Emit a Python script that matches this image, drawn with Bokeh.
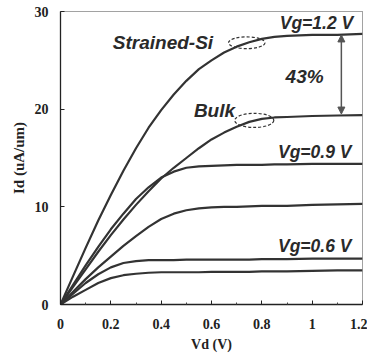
from bokeh.plotting import figure
from bokeh.models import FixedTicker, Range1d, Arrow, NormalHead
from bokeh.core.properties import value
from bokeh.embed import file_html
from bokeh.resources import INLINE

vd = [0, 0.05, 0.1, 0.15, 0.2, 0.25, 0.3, 0.35, 0.4, 0.45, 0.5, 0.55, 0.6,
      0.65, 0.7, 0.75, 0.8, 0.85, 0.9, 1.0, 1.1, 1.2]
strained_12 = [0, 2.9, 5.8, 8.6, 11.2, 13.7, 16.0, 18.1, 19.9, 21.5, 22.9, 24.1, 25.0,
               25.8, 26.4, 26.85, 27.2, 27.4, 27.5, 27.6, 27.6, 27.7]
bulk_12 = [0, 1.8, 3.6, 5.4, 7.1, 8.7, 10.2, 11.6, 12.9, 14.0, 15.0, 16.0, 16.9,
           17.6, 18.2, 18.7, 19.0, 19.15, 19.2, 19.3, 19.35, 19.4]
strained_09 = [0, 2.0, 4.0, 5.9, 7.7, 9.3, 10.8, 12.0, 13.0, 13.6, 14.0, 14.15, 14.2,
               14.25, 14.3, 14.3, 14.3, 14.35, 14.35, 14.4, 14.4, 14.4]
bulk_09 = [0, 1.3, 2.6, 3.8, 4.9, 6.0, 7.0, 7.95, 8.75, 9.3, 9.65, 9.85, 9.95,
           10.0, 10.0, 10.05, 10.1, 10.1, 10.1, 10.2, 10.25, 10.3]
strained_06 = [0, 1.1, 2.2, 3.1, 3.8, 4.25, 4.45, 4.55, 4.55, 4.55, 4.6, 4.6, 4.6,
               4.6, 4.6, 4.6, 4.65, 4.65, 4.65, 4.7, 4.7, 4.7]
bulk_06 = [0, 0.8, 1.5, 2.2, 2.7, 3.0, 3.15, 3.25, 3.3, 3.3, 3.3, 3.3, 3.35,
           3.35, 3.35, 3.35, 3.4, 3.4, 3.4, 3.45, 3.5, 3.5]
series = [strained_12, bulk_12, strained_09, bulk_09, strained_06, bulk_06]

x_ticks = [0, 0.2, 0.4, 0.6, 0.8, 1.0, 1.2]
x_tick_labels = ["0", "0.2", "0.4", "0.6", "0.8", "1", "1.2"]
y_ticks = [0, 10, 20, 30]
y_tick_labels = ["0", "10", "20", "30"]

vg_labels = ["Vg=1.2 V", "Vg=0.9 V", "Vg=0.6 V"]
vg_label_x = [1.017, 1.01, 1.01]
vg_label_y = [28.8, 15.6, 6.0]

p = figure(frame_width=302, frame_height=293, output_backend="svg",
           toolbar_location=None, x_range=Range1d(0, 1.2), y_range=Range1d(0, 30))
p.min_border_left = 60
p.min_border_right = 5
p.min_border_top = 11
p.min_border_bottom = 50
p.xgrid.visible = False
p.ygrid.visible = False
p.background_fill_color = "white"
p.border_fill_color = "white"
p.outline_line_color = "#444444"
p.outline_line_dash = "1 1"
p.outline_line_width = 1

p.xaxis.ticker = FixedTicker(ticks=x_ticks, minor_ticks=[0.1, 0.3, 0.5, 0.7, 0.9, 1.1])
p.xaxis.major_label_overrides = dict(zip(x_ticks, x_tick_labels))
p.yaxis.ticker = FixedTicker(ticks=y_ticks)
p.yaxis.major_label_overrides = dict(zip(y_ticks, y_tick_labels))

for ax in (p.xaxis, p.yaxis):
    ax.axis_line_color = "#222222"
    ax.axis_line_width = 1.3
    ax.major_tick_in = 4
    ax.major_tick_out = 0
    ax.minor_tick_in = 2
    ax.minor_tick_out = 0
    ax.major_tick_line_color = "#222222"
    ax.minor_tick_line_color = "#444444"
    ax.major_label_text_font = "Liberation Serif"
    ax.major_label_text_font_style = "bold"
    ax.major_label_text_font_size = "14px"
    ax.major_label_text_color = "#222222"
    ax.axis_label_text_font = "Liberation Serif"
    ax.axis_label_text_font_style = "bold"
    ax.axis_label_text_font_size = "14px"
    ax.axis_label_text_color = "#222222"
p.yaxis.axis_label_text_font_size = "15px"
p.yaxis.minor_tick_line_color = None
p.xaxis.major_label_standoff = 14
p.yaxis.major_label_standoff = 12
p.xaxis.axis_label = "Vd (V)"
p.yaxis.axis_label = "Id (uA/um)"
p.xaxis.axis_label_standoff = 5
p.yaxis.axis_label_standoff = 5

for s in series:
    p.line(vd, s, line_color="#333333", line_width=2.2, line_join="round")

# dashed ellipses marking strained / bulk saturation knees
p.ellipse(x=[0.74, 0.77], y=[26.8, 18.85], width=[0.145, 0.155], height=[1.2, 1.45],
          fill_color=None, line_color="#333333", line_dash="3 2", line_width=1.2)

# arrow between the two saturation currents
arrow_x = 1.116
p.add_layout(Arrow(start=NormalHead(size=7, fill_color="#555555", line_color="#555555"),
                   end=NormalHead(size=7, fill_color="#555555", line_color="#555555"),
                   x_start=arrow_x, y_start=strained_12[-1] - 0.1,
                   x_end=arrow_x, y_end=bulk_12[-1] + 0.1,
                   line_color="#555555", line_width=1.5))

font = value("Liberation Sans")
p.text(x=[0.208], y=[26.8], text=["Strained-Si"], text_font=font, text_font_style="bold italic",
       text_font_size="19px", text_color="#2a2a2a", text_align="left", text_baseline="middle")
p.text(x=[0.53], y=[19.9], text=["Bulk"], text_font=font, text_font_style="bold italic",
       text_font_size="19px", text_color="#2a2a2a", text_align="left", text_baseline="middle")
p.text(x=[0.97], y=[23.3], text=["43%"], text_font=font, text_font_style="bold italic",
       text_font_size="19px", text_color="#2a2a2a", text_align="center", text_baseline="middle")
p.text(x=vg_label_x, y=vg_label_y, text=vg_labels, text_font=font, text_font_style="bold italic",
       text_font_size="17.5px", text_color="#2a2a2a", text_align="center", text_baseline="middle")

open("out.html", "w").write(file_html(p, INLINE))
